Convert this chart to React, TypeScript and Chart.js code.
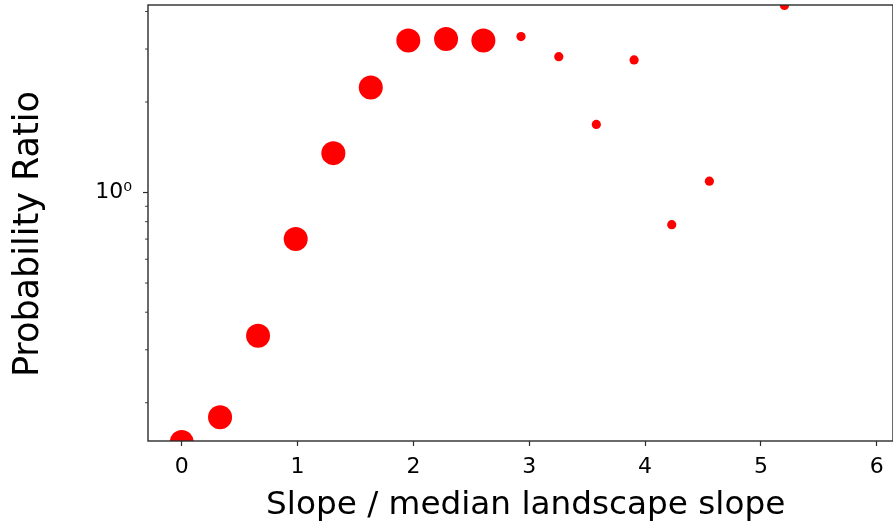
import React, { useEffect, useRef } from "react";
import { Chart, registerables } from "chart.js";

Chart.register(...registerables);

// Data
const largeX = [0, 0.331, 0.659, 0.984, 1.309, 1.632, 1.956, 2.282, 2.604];
const largeY = [0.148, 0.179, 0.334, 0.701, 1.352, 2.235, 3.2, 3.24, 3.2];
const smallX = [2.929, 3.255, 3.579, 3.905, 4.23, 4.555, 5.203];
const smallY = [3.3, 2.83, 1.684, 2.76, 0.782, 1.091, 4.19];

const xTicks = [0, 1, 2, 3, 4, 5, 6];
const yTicks = [0.2, 0.3, 0.4, 0.5, 0.6, 0.7, 0.8, 0.9, 1, 2, 3, 4];
const yMajorTicks = [1];
const yMajorLabels = ["10\u2070"];

const xTitle = "Slope / median landscape slope";
const yTitle = "Probability Ratio";

const X_MIN = -0.291;
const X_MAX = 6.14;
const Y_MIN = 0.1492;
const Y_MAX = 4.203;

const FONT = "'DejaVu Sans', sans-serif";
const AXIS_COLOR = "#2b2b2b";

const spinesPlugin = {
  id: "spines",
  afterDatasetsDraw(chart: any) {
    const { ctx, chartArea } = chart;
    const { left, right, top, bottom } = chartArea;
    ctx.save();
    ctx.strokeStyle = AXIS_COLOR;
    ctx.lineWidth = 1.4;
    ctx.strokeRect(left, top, right - left, bottom - top);
    ctx.restore();
  },
  afterDraw(chart: any) {
    const { ctx, chartArea } = chart;
    const yScale = chart.scales.y;
    ctx.save();
    ctx.strokeStyle = AXIS_COLOR;
    for (const t of yScale.ticks) {
      const y = yScale.getPixelForValue(t.value);
      const major = yMajorTicks.includes(t.value);
      const len = major ? 5 : 3;
      ctx.lineWidth = major ? 1.2 : 0.9;
      ctx.beginPath();
      ctx.moveTo(chartArea.left - len, y);
      ctx.lineTo(chartArea.left, y);
      ctx.stroke();
    }
    ctx.restore();
  },
};

const bgPlugin = {
  id: "bg",
  beforeDraw(chart: any) {
    const { ctx, width, height } = chart;
    ctx.save();
    ctx.fillStyle = "#ffffff";
    ctx.fillRect(0, 0, width, height);
    ctx.restore();
  },
};

export default function App() {
  const ref = useRef<HTMLCanvasElement | null>(null);

  useEffect(() => {
    if (!ref.current) return;
    const chart = new Chart(ref.current, {
      type: "scatter",
      data: {
        datasets: [
          {
            label: "large",
            data: largeX.map((x, i) => ({ x, y: largeY[i] })),
            backgroundColor: "#ff0000",
            borderWidth: 0,
            pointRadius: 12,
            clip: 0,
          },
          {
            label: "small",
            data: smallX.map((x, i) => ({ x, y: smallY[i] })),
            backgroundColor: "#ff0000",
            borderWidth: 0,
            pointRadius: 4.6,
            clip: 0,
          },
        ],
      },
      options: {
        responsive: false,
        devicePixelRatio: 1,
        animation: false,
        events: [],
        layout: { autoPadding: false, padding: { top: 5, left: 0, right: 0, bottom: 0 } },
        plugins: {
          legend: { display: false },
          tooltip: { enabled: false },
        },
        scales: {
          x: {
            type: "linear",
            min: X_MIN,
            max: X_MAX,
            afterBuildTicks: (s: any) => {
              s.ticks = xTicks.map((v) => ({ value: v }));
            },
            afterFit: (s: any) => {
              s.height = 87;
              s.paddingLeft = 0;
              s.paddingRight = 0;
            },
            ticks: {
              autoSkip: false,
              maxRotation: 0,
              padding: 8,
              color: "#000",
              font: { family: FONT, size: 22 },
              callback: (v: any) => String(v),
            },
            grid: {
              display: true,
              drawOnChartArea: false,
              drawTicks: true,
              tickLength: 5,
              tickWidth: 1.2,
              tickColor: AXIS_COLOR,
            },
            border: { display: false },
            title: {
              display: true,
              text: " " + xTitle,
              color: "#000",
              font: { family: FONT, size: 32.7, lineHeight: 1.2 },
              padding: { top: 0, bottom: 3 },
            },
          },
          y: {
            type: "logarithmic",
            min: Y_MIN,
            max: Y_MAX,
            afterBuildTicks: (s: any) => {
              s.ticks = yTicks.map((v) => ({ value: v, major: yMajorTicks.includes(v) }));
            },
            afterFit: (s: any) => {
              s.width = 148;
              s.paddingTop = 0;
              s.paddingBottom = 0;
            },
            ticks: {
              autoSkip: false,
              padding: 16,
              color: "#000",
              font: { family: FONT, size: 22 },
              callback: (v: any) => {
                const idx = yMajorTicks.indexOf(Number(v));
                return idx >= 0 ? yMajorLabels[idx] : "";
              },
            },
            grid: { display: false, drawTicks: false },
            border: { display: false },
            title: {
              display: true,
              text: yTitle + "  ",
              color: "#000",
              font: { family: FONT, size: 35, lineHeight: 1.2 },
              padding: { top: 8, bottom: 0 },
            },
          },
        },
      },
      plugins: [bgPlugin, spinesPlugin],
    } as any);
    return () => chart.destroy();
  }, []);

  return (
    <div style={{ position: "absolute", left: 0, top: 0, width: 893, height: 528, overflow: "hidden" }}>
      <canvas ref={ref} width={893} height={528} style={{ display: "block" }} />
    </div>
  );
}
